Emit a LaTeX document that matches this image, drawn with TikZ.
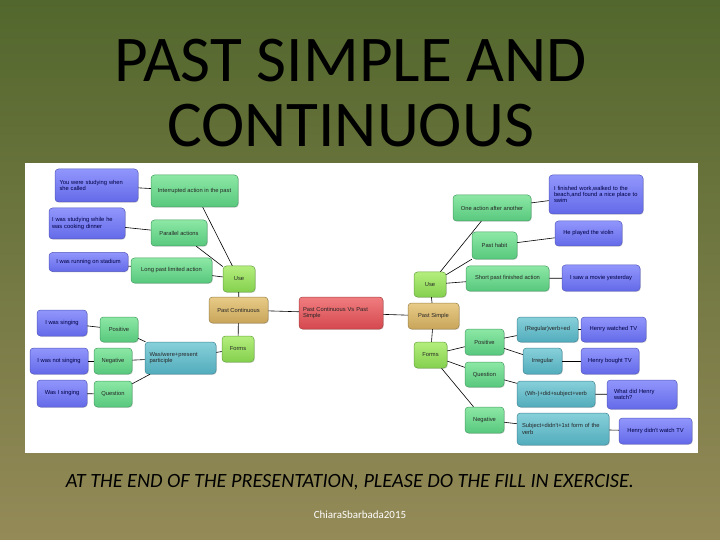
\documentclass[tikz,border=0pt]{standalone}
\usepackage{fontspec}
\setmainfont{Carlito}
\newfontfamily\mapfont{Liberation Sans}
\usetikzlibrary{shadows}
\hyphenpenalty=10000
\exhyphenpenalty=10000

\definecolor{bgtop}{RGB}{82,103,45}
\definecolor{bgbot}{RGB}{148,138,88}
\definecolor{blueA}{RGB}{145,150,252}
\definecolor{blueB}{RGB}{100,106,232}
\definecolor{blueC}{RGB}{85,90,190}
\definecolor{greenA}{RGB}{140,232,165}
\definecolor{greenB}{RGB}{88,200,125}
\definecolor{greenC}{RGB}{70,160,100}
\definecolor{limeA}{RGB}{180,238,125}
\definecolor{limeB}{RGB}{132,208,78}
\definecolor{limeC}{RGB}{105,165,65}
\definecolor{tanA}{RGB}{232,203,135}
\definecolor{tanB}{RGB}{200,165,90}
\definecolor{tanC}{RGB}{155,130,75}
\definecolor{redA}{RGB}{240,125,128}
\definecolor{redB}{RGB}{212,72,78}
\definecolor{redC}{RGB}{170,65,65}
\definecolor{tealA}{RGB}{135,208,218}
\definecolor{tealB}{RGB}{82,172,188}
\definecolor{tealC}{RGB}{65,135,150}

\tikzset{
  box/.style={draw, rounded corners=3.5bp, inner sep=1bp, line width=0.5bp,
    font=\mapfont\fontsize{5.8}{6.3}\selectfont, text=black!85,
    drop shadow={shadow xshift=0.8bp,shadow yshift=-0.8bp,opacity=0.25}},
  sz/.style 2 args={minimum width=#1bp, minimum height=#2bp},
  wrap/.style={text width=#1bp, align=left},
  bluebox/.style={box, top color=blueA, bottom color=blueB, draw=blueC, text=blue!25!black},
  greenbox/.style={box, top color=greenA, bottom color=greenB, draw=greenC},
  limebox/.style={box, top color=limeA, bottom color=limeB, draw=limeC},
  tanbox/.style={box, top color=tanA, bottom color=tanB, draw=tanC},
  redbox/.style={box, top color=redA, bottom color=redB, draw=redC},
  tealbox/.style={box, top color=tealA, bottom color=tealB, draw=tealC},
  link/.style={line width=0.6bp, black}
}

\begin{document}
\begin{tikzpicture}[x=1bp,y=-1bp]
  \useasboundingbox (0,0) rectangle (720,540);
  % Fondo y panel
  \shade[top color=bgtop,bottom color=bgbot] (0,0) rectangle (720,540);
  \fill[white] (25,163) rectangle (698,453);

  % Titulo
  \node[anchor=base,font=\fontsize{65.5}{65.5}\selectfont] (title1) at (350.5,82) {PAST SIMPLE AND};
  \node[anchor=base,font=\fontsize{65.5}{65.5}\selectfont] (title2) at (350.5,147) {CONTINUOUS};

  % Centro
  \node[redbox,sz={84}{32},wrap=76] (root) at (341,313) {Past Continuous Vs Past Simple};

  % Past Continuous
  \node[tanbox,sz={59}{26}] (pcont) at (238.5,310) {Past Continuous};
  \node[limebox,sz={32}{26}] (luse) at (239,279) {Use};
  \node[limebox,sz={32}{26}] (lforms) at (238,349) {Forms};
  \node[greenbox,sz={87}{32}] (interr) at (194.5,191) {Interrupted action in the past};
  \node[greenbox,sz={56}{26}] (parall) at (179,233) {Parallel actions};
  \node[greenbox,sz={81}{25}] (longp) at (171.5,270.5) {Long past limited action};
  \node[bluebox,sz={83}{33},wrap=74] (you) at (96.5,185.5) {You were studying when she called};
  \node[bluebox,sz={76}{31},wrap=70] (istud) at (87,223.5) {I was studying while he was cooking dinner};
  \node[bluebox,sz={79}{19}] (irun) at (88.5,262) {I was running on stadium};
  \node[tealbox,sz={71}{32},wrap=62] (waswere) at (180.5,358) {Was/were+present participle};
  \node[greenbox,sz={38}{25}] (lpos) at (119,329.5) {Positive};
  \node[greenbox,sz={38}{26}] (lneg) at (113,361) {Negative};
  \node[greenbox,sz={38}{26}] (lques) at (113,394) {Question};
  \node[bluebox,sz={50}{26}] (ising) at (62,323) {I was singing};
  \node[bluebox,sz={58}{26}] (inot) at (59,361) {I was not singing};
  \node[bluebox,sz={50}{27}] (wasi) at (62,393.5) {Was I singing};

  \draw[link] (root) -- (pcont);
  \draw[link] (pcont) -- (luse);
  \draw[link] (pcont) -- (lforms);
  \draw[link] (luse) -- (interr);
  \draw[link] (luse) -- (parall);
  \draw[link] (luse) -- (longp);
  \draw[link] (interr) -- (you);
  \draw[link] (parall) -- (istud);
  \draw[link] (longp) -- (irun);
  \draw[link] (lforms) -- (waswere);
  \draw[link] (waswere) -- (lpos);
  \draw[link] (waswere) -- (lneg);
  \draw[link] (waswere) -- (lques);
  \draw[link] (lpos) -- (ising);
  \draw[link] (lneg) -- (inot);
  \draw[link] (lques) -- (wasi);

  % Past Simple
  \node[tanbox,sz={51}{26}] (psimple) at (433.5,316) {Past Simple};
  \node[limebox,sz={32}{25}] (ruse) at (430,284.5) {Use};
  \node[limebox,sz={33}{26}] (rforms) at (430.5,355) {Forms};
  \node[greenbox,sz={78}{26}] (oneact) at (492,208) {One action after another};
  \node[greenbox,sz={45}{27}] (habit) at (494.5,245.5) {Past habit};
  \node[greenbox,sz={83}{25}] (short) at (507.5,278.5) {Short past finished action};
  \node[bluebox,sz={94}{39},wrap=84] (ifin) at (596,194.5) {I finished work,walked to the beach,and found a nice place to swim};
  \node[bluebox,sz={67}{25}] (violin) at (588.5,233.5) {He played the violin};
  \node[bluebox,sz={78}{26}] (movie) at (601,278) {I saw a movie yesterday};
  \node[greenbox,sz={39}{26}] (rpos) at (484.5,342) {Positive};
  \node[greenbox,sz={39}{25}] (rques) at (484.5,374.5) {Question};
  \node[greenbox,sz={39}{26}] (rneg) at (484.5,420) {Negative};
  \node[tealbox,sz={61}{25}] (regular) at (547.5,329.5) {(Regular)verb+ed};
  \node[tealbox,sz={39}{26}] (irreg) at (542.5,361) {Irregular};
  \node[tealbox,sz={78}{26}] (whq) at (556,394) {(Wh-)+did+subject+verb};
  \node[tealbox,sz={92}{32},wrap=82] (subj) at (563,429) {Subject+didn't+1st form of the verb};
  \node[bluebox,sz={65}{25}] (watched) at (613.5,329.5) {Henry watched TV};
  \node[bluebox,sz={58}{26}] (bought) at (610,361) {Henry bought TV};
  \node[bluebox,sz={70}{29},wrap=56] (whatdid) at (642,394.5) {What did Henry watch?};
  \node[bluebox,sz={73}{26}] (didnt) at (655.5,431) {Henry didn't watch TV};

  \draw[link] (root) -- (psimple);
  \draw[link] (psimple) -- (ruse);
  \draw[link] (psimple) -- (rforms);
  \draw[link] (ruse) -- (oneact);
  \draw[link] (ruse) -- (habit);
  \draw[link] (ruse) -- (short);
  \draw[link] (oneact) -- (ifin);
  \draw[link] (habit) -- (violin);
  \draw[link] (short) -- (movie);
  \draw[link] (rforms) -- (rpos);
  \draw[link] (rforms) -- (rques);
  \draw[link] (rforms) -- (rneg);
  \draw[link] (rpos) -- (regular);
  \draw[link] (rpos) -- (irreg);
  \draw[link] (regular) -- (watched);
  \draw[link] (irreg) -- (bought);
  \draw[link] (rques) -- (whq);
  \draw[link] (whq) -- (whatdid);
  \draw[link] (rneg) -- (subj);
  \draw[link] (subj) -- (didnt);

  % Pie
  \node[anchor=base,font=\itshape\fontsize{20.3}{20.3}\selectfont] (exercise) at (350,487) {AT THE END OF THE PRESENTATION, PLEASE DO THE FILL IN EXERCISE.};
  \node[text=white,font=\fontsize{11}{11}\selectfont] (credit) at (360,515) {ChiaraSbarbada2015};
\end{tikzpicture}
\end{document}
